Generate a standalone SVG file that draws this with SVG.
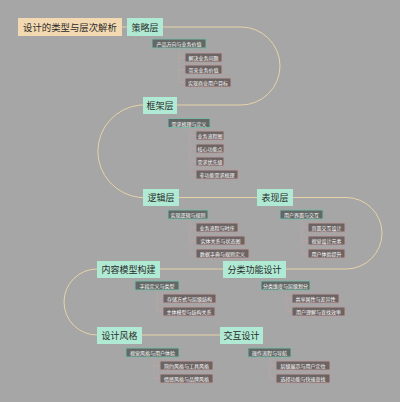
<svg xmlns="http://www.w3.org/2000/svg" width="400" height="402" viewBox="0 0 400 402">
<style>
text{font-family:"Noto Sans CJK SC","Noto Sans",sans-serif;text-anchor:middle;dominant-baseline:central}
.mb{fill:#b0ead4}
.mt{font-size:9px;fill:#2a2a2a}
.rb{fill:#f3d9b1}
.rt{font-size:9.4px;fill:#2a2a2a}
.c1{fill:#636866;stroke:#7cb8a6;stroke-width:1}
.gk{fill:#6c6363;stroke:#b89c9c;stroke-width:1}
.sm{font-size:5px;fill:#ffffff}
.chain{fill:none;stroke:#e8d3a8;stroke-width:1}
.sub{fill:none;stroke:#c4a4a4;stroke-width:0.6}
</style>
<rect width="400" height="402" fill="#a6a6a6"/>
<g id="connectors">
<path class="chain" d="M122,27 H127"/>
<path class="chain" d="M163,27 H241 A39,39 0 0 1 241,105 H177"/>
<path class="chain" d="M143,105 H140 A47,46.5 0 0 0 140,197.5 H143"/>
<path class="chain" d="M179,197.5 H257"/>
<path class="chain" d="M293,197.5 H346 A36,35.75 0 0 1 346,269 H286"/>
<path class="chain" d="M223,269 H160"/>
<path class="chain" d="M97,269 A33,33 0 0 0 97,335"/>
<path class="chain" d="M142,335 H220"/>
<path class="sub" d="M179,48 V82.5 M179,57.5 H185 M179,69.5 H185 M179,82.5 H185"/>
<path class="sub" d="M190,127.5 V174.5 M190,135.5 H196 M190,148.5 H196 M190,161.5 H196 M190,174.5 H196"/>
<path class="sub" d="M190,219 V253.5 M190,227.5 H196 M190,240.5 H196 M190,253.5 H196"/>
<path class="sub" d="M302,219 V253.5 M302,227.5 H308 M302,240.5 H308 M302,253.5 H308"/>
<path class="sub" d="M157,290 V311.5 M157,298.5 H163 M157,311.5 H163"/>
<path class="sub" d="M286,290 V311.5 M286,298.5 H292 M286,311.5 H292"/>
<path class="sub" d="M154,357 V378.5 M154,365.5 H160 M154,378.5 H160"/>
<path class="sub" d="M270,357 V378.5 M270,365.5 H276 M270,378.5 H276"/>
</g>
<g id="root"><rect class="rb" x="18" y="18" width="104" height="18"/><text class="rt" x="70" y="27">设计的类型与层次解析</text></g>
<g id="strategy"><rect class="mb" x="127" y="18" width="36" height="18"/><text class="mt" x="145" y="27">策略层</text>
<rect class="c1" x="152" y="39" width="54" height="9"/><text class="sm" x="179" y="43.5">产品方向与业务价值</text>
<rect class="gk" x="185" y="53" width="37" height="9"/><text class="sm" x="203.5" y="57.5">解决业务问题</text>
<rect class="gk" x="185" y="65" width="37" height="9"/><text class="sm" x="203.5" y="69.5">带来业务价值</text>
<rect class="gk" x="185" y="78" width="46" height="9"/><text class="sm" x="208" y="82.5">实现商业用户目标</text>
</g>
<g id="framework"><rect class="mb" x="143" y="97" width="34" height="17"/><text class="mt" x="160" y="105.5">框架层</text>
<rect class="c1" x="168" y="118.5" width="42" height="9"/><text class="sm" x="189" y="123">需求梳理与定义</text>
<rect class="gk" x="196" y="131" width="28" height="9"/><text class="sm" x="210" y="135.5">业务流程图</text>
<rect class="gk" x="196" y="144" width="28" height="9"/><text class="sm" x="210" y="148.5">核心功能点</text>
<rect class="gk" x="196" y="157" width="28" height="9"/><text class="sm" x="210" y="161.5">需求优先级</text>
<rect class="gk" x="196" y="170" width="42" height="9"/><text class="sm" x="217" y="174.5">非功能需求梳理</text>
</g>
<g id="logic"><rect class="mb" x="143" y="189" width="36" height="17"/><text class="mt" x="161" y="197.5">逻辑层</text>
<rect class="c1" x="168" y="210" width="40" height="9"/><text class="sm" x="188" y="214.5">实现逻辑与规则</text>
<rect class="gk" x="196" y="223" width="42" height="9"/><text class="sm" x="217" y="227.5">业务流程与时序</text>
<rect class="gk" x="196" y="236" width="49" height="9"/><text class="sm" x="220.5" y="240.5">实体关系与状态图</text>
<rect class="gk" x="196" y="249" width="53" height="9"/><text class="sm" x="222.5" y="253.5">数据字典与规则定义</text>
</g>
<g id="presentation"><rect class="mb" x="257" y="189" width="36" height="17"/><text class="mt" x="275" y="197.5">表现层</text>
<rect class="c1" x="280" y="210" width="43" height="9"/><text class="sm" x="301.5" y="214.5">用户界面与交互</text>
<rect class="gk" x="308" y="223" width="37" height="9"/><text class="sm" x="326.5" y="227.5">页面交互设计</text>
<rect class="gk" x="308" y="236" width="37" height="9"/><text class="sm" x="326.5" y="240.5">视觉设计元素</text>
<rect class="gk" x="308" y="249" width="37" height="9"/><text class="sm" x="326.5" y="253.5">用户体验提升</text>
</g>
<g id="content-model"><rect class="mb" x="97" y="261" width="63" height="17"/><text class="mt" x="128.5" y="269.5">内容模型构建</text>
<rect class="c1" x="135" y="281" width="44" height="9"/><text class="sm" x="157" y="285.5">字段定义与类型</text>
<rect class="gk" x="163" y="294" width="53" height="9"/><text class="sm" x="189.5" y="298.5">存储方式与层级结构</text>
<rect class="gk" x="163" y="307" width="52" height="9"/><text class="sm" x="189" y="311.5">主体模型与结构关系</text>
</g>
<g id="classification"><rect class="mb" x="223" y="261" width="63" height="17"/><text class="mt" x="254.5" y="269.5">分类功能设计</text>
<rect class="c1" x="261" y="281" width="49" height="9"/><text class="sm" x="285.5" y="285.5">分类维度与层级划分</text>
<rect class="gk" x="292" y="294" width="47" height="9"/><text class="sm" x="315.5" y="298.5">共享属性与差异性</text>
<rect class="gk" x="292" y="307" width="53" height="9"/><text class="sm" x="318.5" y="311.5">用户理解与查找效率</text>
</g>
<g id="style"><rect class="mb" x="97" y="327" width="45" height="17"/><text class="mt" x="119.5" y="335.5">设计风格</text>
<rect class="c1" x="126" y="348" width="53" height="9"/><text class="sm" x="152.5" y="352.5">视觉风格与用户体验</text>
<rect class="gk" x="160" y="361" width="53" height="9"/><text class="sm" x="186.5" y="365.5">简约风格与工具风格</text>
<rect class="gk" x="160" y="374" width="53" height="9"/><text class="sm" x="186.5" y="378.5">情感风格与品牌风格</text>
</g>
<g id="interaction"><rect class="mb" x="220" y="327" width="43" height="17"/><text class="mt" x="241.5" y="335.5">交互设计</text>
<rect class="c1" x="248" y="348" width="43" height="9"/><text class="sm" x="269.5" y="352.5">操作流程与导航</text>
<rect class="gk" x="276" y="361" width="54" height="9"/><text class="sm" x="303" y="365.5">层级展示与用户定位</text>
<rect class="gk" x="276" y="374" width="54" height="9"/><text class="sm" x="303" y="378.5">选择功能与快速查找</text>
</g>
</svg>
